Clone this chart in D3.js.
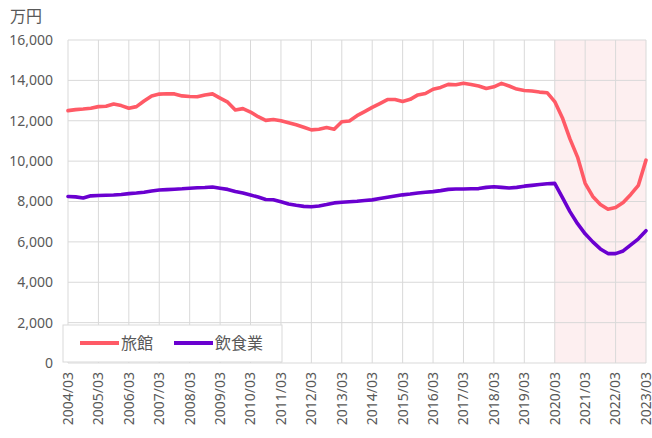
<!DOCTYPE html>
<html>
<head>
<meta charset="utf-8">
<script src="https://cdn.jsdelivr.net/npm/d3@7"></script>
<style>
  body { margin: 0; background: #fff; }
  text { font-family: "Noto Sans", "Noto Sans CJK JP", sans-serif; fill: #595959; }
</style>
</head>
<body>
<div id="chart-area"></div>
<script>
// quarterly values, 2004/03 .. 2023/03 (万円)
var ryokan = [
  12500, 12550, 12580, 12620, 12700, 12720, 12830, 12750,
  12620, 12700, 12980, 13230, 13320, 13340, 13330, 13230,
  13200, 13190, 13280, 13330, 13120, 12920, 12530, 12600,
  12430, 12200, 12020, 12060, 12000, 11900, 11800, 11680,
  11550, 11580, 11660, 11580, 11950, 11990, 12250, 12450,
  12660, 12850, 13050, 13050, 12950, 13060, 13280, 13350,
  13560, 13650, 13800, 13780, 13860, 13800, 13720, 13600,
  13680, 13850, 13720, 13570, 13500, 13470, 13420, 13390,
  12950, 12150, 11100, 10200, 8900, 8250, 7850, 7620,
  7700, 7950, 8350, 8800, 10050
];
var inshoku = [
  8250, 8230, 8170, 8280, 8300, 8310, 8320, 8350,
  8390, 8420, 8460, 8520, 8570, 8590, 8610, 8630,
  8660, 8680, 8690, 8720, 8660, 8600, 8500, 8420,
  8320, 8220, 8100, 8090, 7990, 7880, 7810, 7760,
  7740, 7780, 7850, 7930, 7960, 7990, 8010, 8050,
  8080, 8150, 8210, 8270, 8330, 8370, 8420, 8460,
  8490, 8540, 8600, 8620, 8620, 8630, 8640, 8700,
  8730, 8700, 8670, 8700, 8760, 8800, 8840, 8880,
  8900, 8200, 7500, 6900, 6400, 6000, 5650, 5420,
  5420, 5550, 5850, 6150, 6550
];
var years = d3.range(2004, 2024);
var yearLabels = years.map(function(y) { return y + "/03"; });
var yTicks = [0, 2000, 4000, 6000, 8000, 10000, 12000, 14000, 16000];
var seriesNames = ["旅館", "飲食業"];
var colors = ["#ff5a66", "#6a00d0"];
var shadeFrom = 2020, shadeTo = 2023;

var margin = {top: 40, right: 6, bottom: 75, left: 68};
var width = 652 - margin.left - margin.right,
    height = 438 - margin.top - margin.bottom;

var svg = d3.select("#chart-area").append("svg")
    .attr("width", 652)
    .attr("height", 438)
  .append("g")
    .attr("transform", "translate(" + margin.left + "," + margin.top + ")");

// time in years, quarter index / 4
var x = d3.scaleLinear().domain([2004, 2023]).range([0, width]);
var y = d3.scaleLinear().domain([0, 16000]).range([height, 0]);

// covid shading
svg.append("rect")
    .attr("x", x(shadeFrom))
    .attr("y", 0)
    .attr("width", x(shadeTo) - x(shadeFrom))
    .attr("height", height)
    .attr("fill", "#fdeff0");

// grid
svg.append("g").selectAll("line").data(yTicks).enter().append("line")
    .attr("x1", 0).attr("x2", width)
    .attr("y1", function(d) { return y(d); })
    .attr("y2", function(d) { return y(d); })
    .attr("stroke", "#d9d9d9");
svg.append("g").selectAll("line").data(years).enter().append("line")
    .attr("x1", function(d) { return x(d); })
    .attr("x2", function(d) { return x(d); })
    .attr("y1", 0).attr("y2", height)
    .attr("stroke", "#d9d9d9");

// y axis
var yAxis = d3.axisLeft(y).tickValues(yTicks).tickSize(0).tickPadding(15)
    .tickFormat(d3.format(","));
svg.append("g").attr("class", "y-axis").call(yAxis)
    .call(function(g) { g.select(".domain").remove(); })
    .selectAll("text")
    .style("font-size", "14px")
    .attr("fill", "#595959");

// x axis labels, rotated
svg.append("g").attr("class", "x-axis")
  .selectAll("text").data(years).enter().append("text")
    .attr("transform", function(d) {
      return "translate(" + x(d) + "," + (height + 9) + ") rotate(-90)";
    })
    .attr("dy", "0.35em")
    .attr("text-anchor", "end")
    .style("font-size", "14px")
    .text(function(d, i) { return yearLabels[i]; });

// unit
svg.append("text")
    .attr("x", -58).attr("y", -18)
    .style("font-size", "16px")
    .text("万円");

// lines
var line = d3.line()
    .x(function(d, i) { return x(2004 + i / 4); })
    .y(function(d) { return y(d); });

[ryokan, inshoku].forEach(function(s, k) {
  svg.append("path")
      .datum(s)
      .attr("fill", "none")
      .attr("stroke", colors[k])
      .attr("stroke-width", 3.6)
      .attr("stroke-linejoin", "round")
      .attr("stroke-linecap", "round")
      .attr("d", line);
});

// legend
var legend = svg.append("g").attr("transform", "translate(-5," + (height - 38) + ")");
legend.append("rect")
    .attr("width", 219).attr("height", 37)
    .attr("fill", "#fff")
    .attr("stroke", "#d9d9d9");
var legendX = [17, 111];
seriesNames.forEach(function(n, k) {
  legend.append("line")
      .attr("x1", legendX[k]).attr("x2", legendX[k] + 39)
      .attr("y1", 18).attr("y2", 18)
      .attr("stroke", colors[k])
      .attr("stroke-width", 4);
  legend.append("text")
      .attr("x", legendX[k] + 41).attr("y", 18)
      .attr("dy", "0.36em")
      .style("font-size", "16px")
      .text(n);
});
</script>
</body>
</html>
